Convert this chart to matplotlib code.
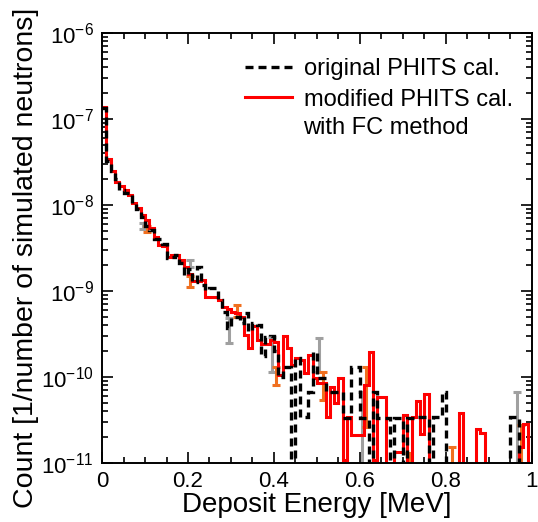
import numpy as np
import matplotlib.pyplot as plt
from matplotlib.ticker import MultipleLocator, LogLocator, NullFormatter

plt.rcParams['font.family'] = ['Liberation Sans', 'DejaVu Sans']
plt.rcParams['mathtext.fontset'] = 'custom'
plt.rcParams['mathtext.rm'] = 'Liberation Sans'
plt.rcParams['mathtext.it'] = 'Liberation Sans:italic'

# 0.01 MeV bins, values are log10(count), nan = empty bin
bin_width = 0.01
log_original = [
    -6.87, -7.49, -7.60, -7.70, -7.82, -7.86, -7.86, -7.98, -8.05, -8.14,
    -8.24, -8.29, -8.40, -8.40, -8.45, -8.62, -8.60, -8.58, -8.68, -8.81,
    -8.74, -8.90, -8.72, -8.93, -8.99, -8.97, -8.97, -9.10, -9.24, -9.43,
    -9.30, -9.30, -9.37, -9.25, -9.47, -9.37, -9.39, -9.76, -9.53, -9.52,
    -9.70, -10.00, -9.88, -9.88, np.nan, -9.78, -10.47, -10.47, -10.17, -9.71,
    -10.01, -10.01, -10.17, -10.17, -10.17, -10.17, -10.48, -10.48, -9.88, -9.88,
    -10.48, -10.48, np.nan, -10.17, -10.48, -10.48, -10.48, np.nan, -10.48, -10.48,
    np.nan, -10.48, -10.48, -10.47, -10.47, -10.47, np.nan, -10.47, -10.47, -10.17,
    np.nan, np.nan, np.nan, np.nan, np.nan, np.nan, np.nan, np.nan, np.nan, np.nan,
    np.nan, np.nan, np.nan, np.nan, np.nan, -10.47, -10.47, np.nan, np.nan, np.nan,
]
log_modified = [
    -6.86, -7.47, -7.61, -7.73, -7.78, -7.83, -7.88, -7.98, -8.03, -8.12,
    -8.17, -8.27, -8.37, -8.47, -8.48, -8.60, -8.58, -8.58, -8.64, -8.72,
    -8.80, -8.88, -8.88, -8.87, -9.07, -9.07, -9.07, -9.11, -9.19, -9.21,
    -9.24, -9.26, -9.30, -9.51, -9.66, -9.41, -9.57, -9.62, -9.62, -9.57,
    -9.59, -9.98, -9.52, -9.66, -9.86, -9.78, -9.80, -9.95, -9.74, -10.01,
    -10.07, -10.07, -10.46, -10.12, -10.30, -10.01, -10.97, -10.46, -10.67, -10.67,
    -10.67, -10.09, -9.71, -10.97, -10.23, -10.23, np.nan, np.nan, -10.87, -10.87,
    -10.44, np.nan, -10.47, -10.28, -10.66, -10.20, np.nan, np.nan, np.nan, np.nan,
    np.nan, np.nan, np.nan, -10.42, np.nan, np.nan, np.nan, -10.60, -10.65, np.nan,
    np.nan, np.nan, np.nan, np.nan, np.nan, np.nan, np.nan, -10.81, -10.55, np.nan,
]

# error bars: bin centre, log10 lower, log10 upper
err_orig_x = [0.095, 0.205, 0.295, 0.395, 0.505, 0.605, 0.965]
err_orig_lo = [-8.28, -8.72, -9.60, -9.94, -9.94, -12.0, -12.0]
err_orig_hi = [-8.21, -8.64, -9.31, -9.53, -9.55, -10.17, -10.17]
err_mod_x = [0.105, 0.205, 0.315, 0.405, 0.515, 0.615, 0.715, 0.815, 0.975]
err_mod_lo = [-8.31, -8.95, -9.30, -10.09, -10.27, -10.58, -12.0, -12.0, -12.0]
err_mod_hi = [-8.24, -8.83, -9.16, -9.88, -9.94, -9.88, -10.88, -10.81, -10.56]

xticks = [0, 0.2, 0.4, 0.6, 0.8, 1.0]
xticklabels = ['0', '0.2', '0.4', '0.6', '0.8', '1']


def counts(logs):
    c = 10.0 ** np.array(logs, dtype=float)
    return np.where(np.isnan(c), 1e-14, c)


def draw_err(ax, x, lo, hi, color):
    lo = 10.0 ** np.array(lo)
    hi = 10.0 ** np.array(hi)
    mid = np.sqrt(lo * hi)
    ax.errorbar(x, mid, yerr=[mid - lo, hi - mid], fmt='none', ecolor=color,
                elinewidth=2.2, capsize=2.8, capthick=2.2, zorder=1)


fig = plt.figure(figsize=(5.38, 5.22), dpi=100)
ax = fig.add_axes([0.1896, 0.113, 0.7992, 0.8238])
ax.set_yscale('log')

edges = np.arange(len(log_original) + 1) * bin_width

draw_err(ax, err_orig_x, err_orig_lo, err_orig_hi, '#a0a0a0')
draw_err(ax, err_mod_x, err_mod_lo, err_mod_hi, '#f07020')

ax.stairs(counts(log_modified), edges, baseline=None, color='#ff0000',
          linewidth=2.2, zorder=2, label='modified PHITS cal.')
ax.stairs(counts(log_original), edges, baseline=None, color='black',
          linewidth=2.4, linestyle=(0, (2.4, 1.5)), zorder=3,
          label='original PHITS cal.')

ax.set_xlim(0, 1)
ax.set_ylim(1e-11, 1e-6)
ax.set_xticks(xticks)
ax.set_xticklabels(xticklabels)
ax.xaxis.set_minor_locator(MultipleLocator(0.05))
ax.yaxis.set_major_locator(LogLocator(base=10, numticks=10))
ax.yaxis.set_minor_locator(LogLocator(base=10, subs=np.arange(2, 10), numticks=20))
ax.yaxis.set_minor_formatter(NullFormatter())
ax.tick_params(which='both', direction='in', top=True, right=True, width=1.2)
ax.tick_params(which='major', length=8, labelsize=16, pad=6)
ax.tick_params(which='minor', length=4)
for s in ax.spines.values():
    s.set_linewidth(1.4)

ax.set_xlabel('Deposit Energy [MeV]', fontsize=20)
ax.set_ylabel('Count [1/number of simulated neutrons]', fontsize=20.5)
ax.xaxis.set_label_coords(0.5, -0.067)
ax.yaxis.set_label_coords(-0.146, 0.478)

h, l = ax.get_legend_handles_labels()
ax.legend(h[::-1], l[::-1], loc='upper left', bbox_to_anchor=(0.333, 0.941),
          frameon=False, fontsize=17, handlelength=2.0, handletextpad=0.5,
          borderpad=0, borderaxespad=0, labelspacing=0.35)
ax.text(0.467, 0.778, 'with FC method', transform=ax.transAxes,
        fontsize=17, va='center', ha='left')

fig.savefig('out.png', dpi=100)
